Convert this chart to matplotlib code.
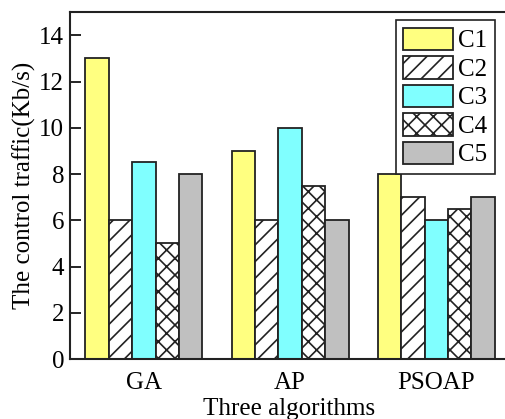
import matplotlib.pyplot as plt
import numpy as np

plt.rcParams["font.family"] = ["Liberation Serif", "DejaVu Serif"]
plt.rcParams["hatch.linewidth"] = 1.2

algorithms = ["GA", "AP", "PSOAP"]
series = ["C1", "C2", "C3", "C4", "C5"]
c1 = [13, 9, 8]
c2 = [6, 6, 7]
c3 = [8.5, 10, 6]
c4 = [5, 7.5, 6.5]
c5 = [8, 6, 7]
values = [c1, c2, c3, c4, c5]

colors = ["#ffff80", "white", "#80ffff", "white", "#c0c0c0"]
hatches = [None, "//", None, "xx", None]

fig = plt.figure(figsize=(5.06, 4.19), dpi=100)
# right spine falls just outside the figure, as in the cropped original
ax = fig.add_axes([0.138, 0.143, 0.866, 0.828])

x = np.arange(len(algorithms))
w = 0.16
for i, (name, vals) in enumerate(zip(series, values)):
    ax.bar(x + (i - 2) * w, vals, w, color=colors[i], hatch=hatches[i],
           edgecolor="#222222", linewidth=1.3, label=name)

ax.set_xlim(-0.507, 2.49)
ax.set_ylim(0, 15)
ax.set_yticks(range(0, 15, 2))
ax.set_xticks(x)
ax.set_xticklabels(algorithms)
ax.tick_params(axis="y", direction="in", length=8, width=1.2, labelsize=18, pad=4)
ax.tick_params(axis="x", length=0, labelsize=18, pad=9)
for s in ax.spines.values():
    s.set_linewidth(1.5)
    s.set_color("#222222")

ax.set_xlabel("Three algorithms", fontsize=18, labelpad=3)
ax.set_ylabel("The control traffic(Kb/s)", fontsize=18, labelpad=2)

leg = ax.legend(loc="upper right", bbox_to_anchor=(0.97, 0.977), borderaxespad=0,
                fontsize=18, handlelength=2.0, handleheight=1.0, labelspacing=0.15,
                handletextpad=0.2, borderpad=0.3, fancybox=False, framealpha=1)
leg.get_frame().set_edgecolor("#222222")
leg.get_frame().set_linewidth(1.2)

plt.savefig("out.png", dpi=100)
